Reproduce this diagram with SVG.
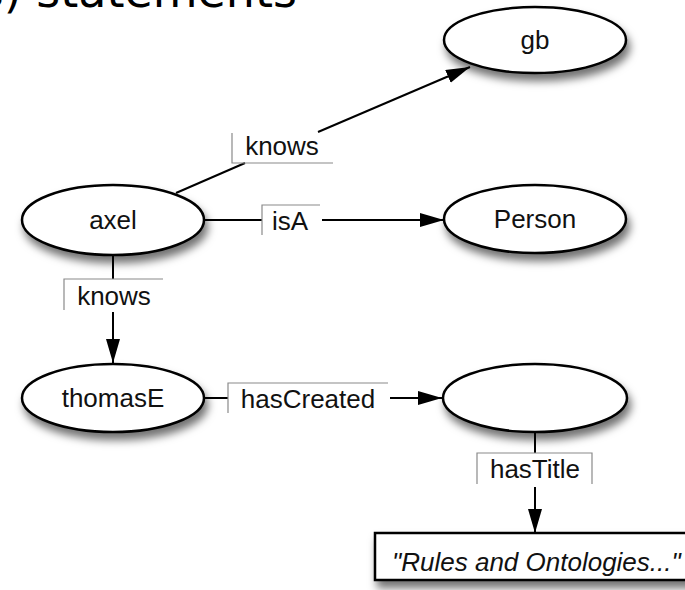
<svg xmlns="http://www.w3.org/2000/svg" width="685" height="590" viewBox="0 0 685 590">
<defs>
<style>
.node{fill:#fff;stroke:#000;stroke-width:2.5;filter:url(#sh)}
.lbl{font-family:"Liberation Sans",Arial,sans-serif;font-size:26px;fill:#111}
.edge{stroke:#000;stroke-width:2;fill:none}
.frame{stroke:#8a8a8a;stroke-width:1.2;fill:none}
.title{font-family:"DejaVu Sans",Verdana,sans-serif;font-size:46px;fill:#000}
</style>
<filter id="sh" x="-20%" y="-30%" width="140%" height="180%">
<feDropShadow dx="3" dy="7" stdDeviation="4" flood-color="#000" flood-opacity="0.55"/>
</filter>
<marker id="arr" viewBox="0 0 10 10" refX="10" refY="5" markerWidth="12.5" markerHeight="12.5" markerUnits="userSpaceOnUse" orient="auto">
<path d="M0,0 L10,5 L0,10 z" fill="#000"/>
</marker>
<marker id="arrB" viewBox="0 0 24 14" refX="24" refY="7" markerWidth="24" markerHeight="14" markerUnits="userSpaceOnUse" orient="auto">
<path d="M0,0 L24,7 L0,14 z" fill="#000"/>
</marker>
</defs>
<text class="title" x="297" y="7" text-anchor="end">s) statements</text>
<g id="connectors">
<line class="edge" x1="176" y1="193" x2="245" y2="163"/>
<line class="edge" x1="318" y1="132" x2="470" y2="67" marker-end="url(#arrB)"/>
<line class="edge" x1="204" y1="220" x2="262" y2="220"/>
<line class="edge" x1="322" y1="220" x2="444" y2="220" marker-end="url(#arrB)"/>
<line class="edge" x1="113" y1="255" x2="113" y2="279"/>
<line class="edge" x1="113" y1="312" x2="113" y2="363" marker-end="url(#arrB)"/>
<line class="edge" x1="204" y1="398" x2="228" y2="398"/>
<line class="edge" x1="390" y1="398" x2="442" y2="398" marker-end="url(#arrB)"/>
<line class="edge" x1="535" y1="433" x2="535" y2="453"/>
<line class="edge" x1="535" y1="487" x2="535" y2="533" marker-end="url(#arrB)"/>
<g id="lbl-knows1">
<path class="frame" d="M232,133 V163 H333"/>
<text class="lbl" x="282" y="155" text-anchor="middle">knows</text>
</g>
<g id="lbl-isA">
<path class="frame" d="M262,235 V205 H320"/>
<text class="lbl" x="290" y="230" text-anchor="middle">isA</text>
</g>
<g id="lbl-knows2">
<path class="frame" d="M64,310 V279 H163"/>
<text class="lbl" x="114" y="305" text-anchor="middle">knows</text>
</g>
<g id="lbl-hasCreated">
<path class="frame" d="M228,413 V383 H388"/>
<text class="lbl" x="308" y="408" text-anchor="middle">hasCreated</text>
</g>
<g id="lbl-hasTitle">
<path class="frame" d="M477,484 V453 H592 V484"/>
<text class="lbl" x="535" y="478" text-anchor="middle">hasTitle</text>
</g>
</g>
<g id="gb">
<ellipse class="node" cx="535" cy="40" rx="91" ry="33"/>
<text class="lbl" x="535" y="49" text-anchor="middle">gb</text>
</g>
<g id="axel">
<ellipse class="node" cx="113" cy="220" rx="91" ry="35"/>
<text class="lbl" x="113" y="229" text-anchor="middle">axel</text>
</g>
<g id="Person">
<ellipse class="node" cx="535" cy="219" rx="91" ry="34"/>
<text class="lbl" x="535" y="228" text-anchor="middle">Person</text>
</g>
<g id="thomasE">
<ellipse class="node" cx="113" cy="398" rx="91" ry="34"/>
<text class="lbl" x="113" y="407" text-anchor="middle">thomasE</text>
</g>
<g id="blank">
<ellipse class="node" cx="535" cy="398" rx="92" ry="34"/>
</g>
<g id="title">
<rect class="node" x="375" y="533" width="320" height="47"/>
<text class="lbl" x="392" y="571" font-style="italic">"Rules and Ontologies..."</text>
</g>
</svg>
